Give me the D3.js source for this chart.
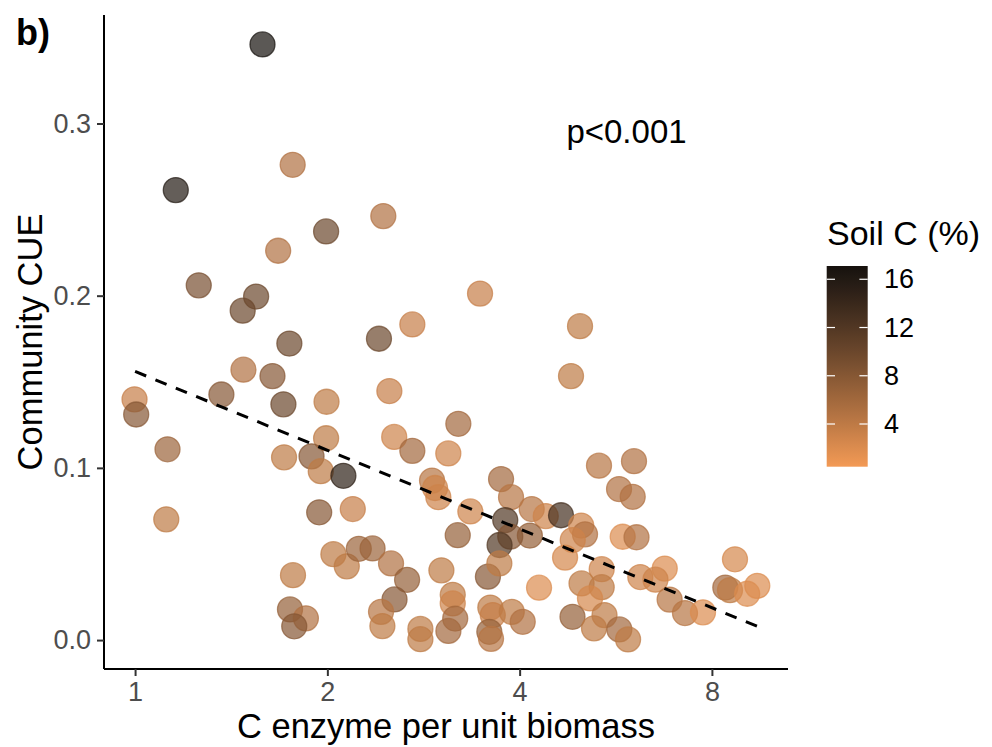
<!DOCTYPE html>
<html lang="en">
<head>
  <meta charset="utf-8">
  <title>Community CUE vs C enzyme</title>
  <script src="https://d3js.org/d3.v7.min.js"></script>
  <style>
  body{ margin:0; background:#fff; }
  text{ font-family: "Liberation Sans", Arial, sans-serif; }
  </style>
</head>
<body>
  <script>
  // C enzyme per unit biomass (x), community CUE (y), soil C % (colour)
  var enzymeC = [1.583,1.765,1.158,1.991,1.675,1.258,1.547,1.474,1.744,2.409,
    2.447,3.468,2.717,4.973,4.814,2.501,1.478,1.641,1.365,0.998,
    1.004,1.707,1.994,1.124,1.991,1.711,1.889,1.953,2.119,1.119,
    1.942,2.192,3.207,2.545,2.717,3.093,2.917,2.949,2.984,3.349,
    3.200,2.044,2.145,2.240,2.354,2.516,2.666,2.548,2.427,2.439,
    1.767,1.748,1.851,1.775,2.797,2.797,3.017,3.143,3.143,3.171,
    3.094,3.741,3.878,4.178,4.395,4.644,3.798,4.150,3.867,3.721,
    3.568,3.718,4.290,4.994,5.063,4.844,4.712,5.377,5.800,6.096,
    5.000,5.377,5.155,4.840,5.432,5.230,5.730,5.913,3.599,3.631,
    3.888,4.045,3.586,3.608,6.180,6.749,6.527,6.869,7.260,7.747,
    8.694,8.396,8.539,9.085,9.422,5.325,6.041,5.724,6.013];

  var cue = [0.3459,0.2760,0.2613,0.2373,0.2261,0.2060,0.1995,0.1913,0.1722,0.1750,
    0.2462,0.2012,0.1833,0.1823,0.1533,0.1446,0.1570,0.1533,0.1426,0.1398,
    0.1310,0.1369,0.1384,0.1108,0.1172,0.1061,0.1067,0.0981,0.0954,0.0701,
    0.0742,0.0761,0.1256,0.1180,0.1099,0.1084,0.0926,0.0883,0.0830,0.0747,
    0.0609,0.0499,0.0428,0.0530,0.0532,0.0445,0.0350,0.0236,0.0164,0.0081,
    0.0377,0.0178,0.0126,0.0080,0.0065,0.0005,0.0405,0.0263,0.0213,0.0125,
    0.0053,0.0935,0.0830,0.0761,0.0720,0.0725,0.0697,0.0607,0.0601,0.0552,
    0.0368,0.0445,0.0304,0.0665,0.0614,0.0581,0.0479,0.0412,0.0600,0.0597,
    0.0329,0.0307,0.0242,0.0135,0.0145,0.0068,0.0062,0.0004,0.0189,0.0145,
    0.0164,0.0106,0.0048,0.0007,0.0366,0.0415,0.0351,0.0235,0.0157,0.0161,
    0.0469,0.0305,0.0290,0.0269,0.0315,0.1013,0.1039,0.0877,0.0832];

  var soilC = [17.1,5,16,10,5,9,10,10,10,10,
    5,3.5,3.5,4,4,3.5,5,8,8,3.5,
    8,10,4,6.5,4,4,8,4,15,4,
    8,3.5,6,3,6,3,4.5,3,3,3,
    7,4,4,6.5,6.5,5,7,8,4.5,4,
    4,7,5,8,4,4,4,4,3,6,
    6,6,4.5,4.5,3,13,12,7,8,12,
    8,4,2,3,5,3,2.5,3,2,5,
    4,4,2.5,7,4,4,6,4,4,3.5,
    4,5,7,4.5,3,2,3,4.5,4.5,2,
    2.5,6,4,2,2,4.5,5,5,5];

  // dashed lm fit on log2 x (end points)
  var fitX = [1.0, 9.42];
  var fitY = [0.156, 0.008];

  var xTicks = [1,2,4,8];
  var yTicks = [0,0.1,0.2,0.3];
  var legendTicks = [4,8,12,16];

  var width = 992, height = 747;
  var svg = d3.select("body").append("svg")
    .attr("width",width)
    .attr("height",height);

  var x = d3.scaleLog().base(2)
    .domain([0.894,10.525])
    .range([104,788]);
  var y = d3.scaleLinear()
    .domain([-0.0168,0.363])
    .range([669,15]);

  var col = d3.scaleSequential(d3.interpolateLab("#F39A55","#16110D"))
    .domain([0.46,17.1]);

  // points
  var pts = svg.append("g");
  pts.selectAll("circle")
    .data(d3.range(enzymeC.length))
    .enter()
    .append("circle")
    .attr("cx",function(i){ return x(enzymeC[i]); })
    .attr("cy",function(i){ return y(cue[i]); })
    .attr("r",12.5)
    .attr("fill",function(i){ return col(soilC[i]); })
    .attr("fill-opacity",0.7)
    .attr("stroke",function(i){ return col(soilC[i]); })
    .attr("stroke-opacity",0.7)
    .attr("stroke-width",1.3);

  // fit line
  var line = d3.line()
    .x(function(d){ return x(d[0]); })
    .y(function(d){ return y(d[1]); });
  svg.append("path")
    .datum(d3.zip(fitX,fitY))
    .attr("d",line)
    .attr("fill","none")
    .attr("stroke","#000")
    .attr("stroke-width",3)
    .attr("stroke-dasharray","12,10");

  // axes
  var xAxis = svg.append("g")
    .attr("transform","translate(0,669)")
    .call(d3.axisBottom(x).tickValues(xTicks).tickFormat(d3.format("d")).tickSize(7).tickPadding(6));
  var yAxis = svg.append("g")
    .attr("transform","translate(104,0)")
    .call(d3.axisLeft(y).tickValues(yTicks).tickFormat(d3.format(".1f")).tickSize(7).tickPadding(6));

  [xAxis,yAxis].forEach(function(a){
    a.select(".domain").attr("stroke","#000").attr("stroke-width",2);
    a.selectAll(".tick line").attr("stroke","#333").attr("stroke-width",2);
    a.selectAll(".tick text")
      .attr("fill","#4D4D4D")
      .style("font-size","27px")
      .style("font-family","Liberation Sans, Arial, sans-serif");
  });
  // ggplot axis lines span the full panel
  xAxis.select(".domain").attr("d","M104,0H788");
  yAxis.select(".domain").attr("d","M0,15V669");

  // titles
  svg.append("text")
    .attr("x",446).attr("y",738)
    .attr("text-anchor","middle")
    .style("font-size","34.5px")
    .text("C enzyme per unit biomass");

  svg.append("text")
    .attr("transform","translate(42,342) rotate(-90)")
    .attr("text-anchor","middle")
    .style("font-size","34.5px")
    .text("Community CUE");

  svg.append("text")
    .attr("x",16).attr("y",45)
    .style("font-size","36px")
    .style("font-weight","bold")
    .text("b)");

  svg.append("text")
    .attr("x",x(5.88)).attr("y",y(0.2956))
    .attr("text-anchor","middle")
    .attr("dominant-baseline","central")
    .style("font-size","33px")
    .text("p<0.001");

  // colour bar legend
  var lg = d3.scaleLinear().domain([0.46,17.1]).range([466.7,266]);
  var defs = svg.append("defs");
  var grad = defs.append("linearGradient")
    .attr("id","soilGrad")
    .attr("x1","0").attr("y1","1").attr("x2","0").attr("y2","0");
  grad.selectAll("stop")
    .data(d3.range(0,1.0001,0.05))
    .enter()
    .append("stop")
    .attr("offset",function(t){ return t; })
    .attr("stop-color",function(t){ return col(0.46 + t*(17.1-0.46)); });

  var leg = svg.append("g");
  leg.append("rect")
    .attr("x",826.7).attr("y",266)
    .attr("width",41).attr("height",200.7)
    .attr("fill","url(#soilGrad)");

  leg.selectAll("line.l")
    .data(legendTicks)
    .enter()
    .append("line")
    .attr("x1",826.7).attr("x2",835)
    .attr("y1",function(d){ return lg(d); })
    .attr("y2",function(d){ return lg(d); })
    .attr("stroke","#fff").attr("stroke-width",1.2);
  leg.selectAll("line.r")
    .data(legendTicks)
    .enter()
    .append("line")
    .attr("x1",859.4).attr("x2",867.7)
    .attr("y1",function(d){ return lg(d); })
    .attr("y2",function(d){ return lg(d); })
    .attr("stroke","#fff").attr("stroke-width",1.2);

  leg.selectAll("text.lab")
    .data(legendTicks)
    .enter()
    .append("text")
    .attr("x",884)
    .attr("y",function(d){ return lg(d); })
    .attr("dominant-baseline","central")
    .style("font-size","27px")
    .text(function(d){ return d; });

  leg.append("text")
    .attr("x",827).attr("y",245)
    .style("font-size","34px")
    .text("Soil C (%)");
  </script>
</body>
</html>
